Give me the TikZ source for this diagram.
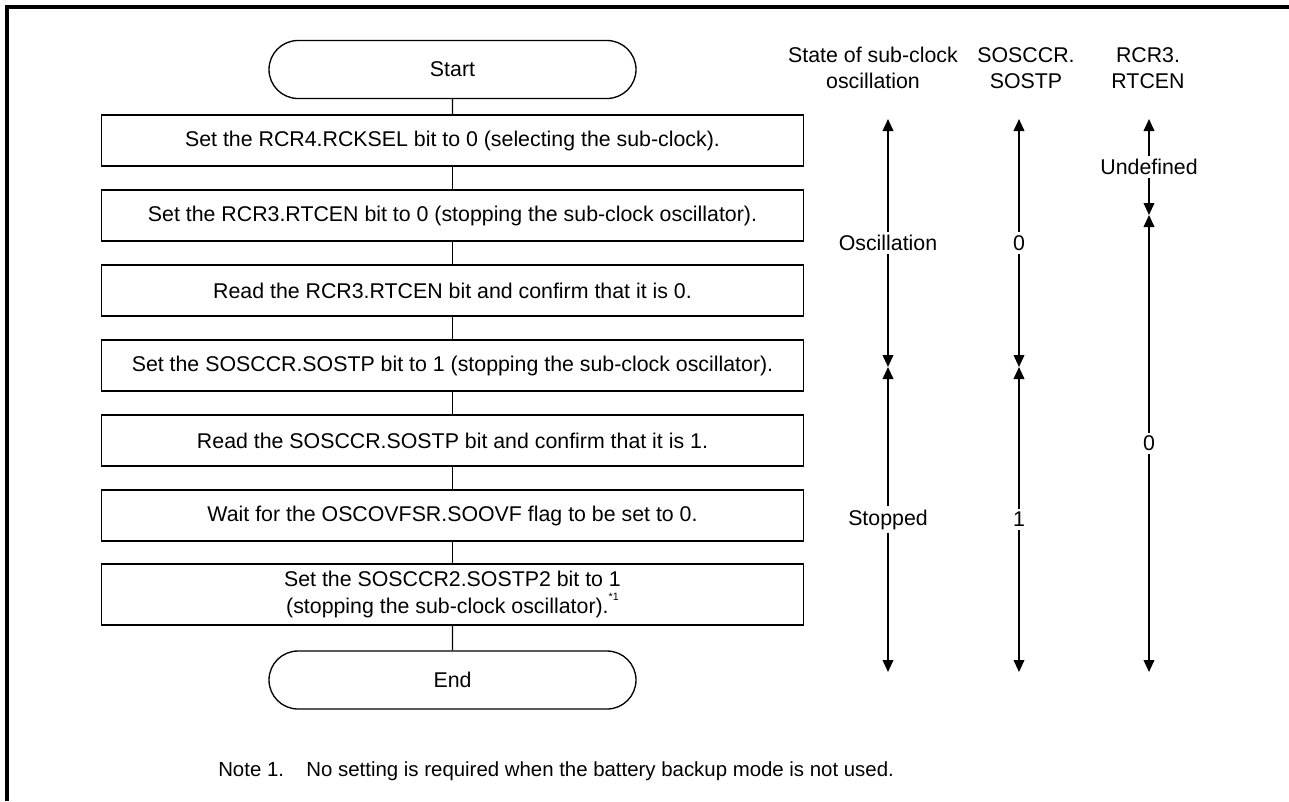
\documentclass[tikz,border=0pt]{standalone}
\usepackage{fontspec}
\setmainfont{Liberation Sans}
\usetikzlibrary{shapes.misc,arrows.meta}
\begin{document}
\begin{tikzpicture}[x=0.75pt,y=-0.75pt,
  font=\fontsize{16}{19.5}\selectfont,
  term/.style={draw,line width=1pt,rounded rectangle,minimum width=275.25pt,minimum height=43.5pt,inner sep=0pt},
  stepbox/.style={draw,line width=1pt,rectangle,minimum width=526.5pt,minimum height=38.25pt,inner sep=0pt,align=center},
  conn/.style={line width=1pt},
  dblarrow/.style={line width=1.2pt,{Triangle[length=9pt,width=8pt]}-{Triangle[length=9pt,width=8pt]}},
  lbl/.style={fill=white,inner sep=2.5pt},
  hdr/.style={align=center,inner sep=0pt}]
\useasboundingbox (0,0) rectangle (1289,801);
\fill[white] (0,0) rectangle (1289,801);
\draw[line width=2.8pt] (7,801) -- (7,7) -- (1289,7);

\node[term] (start) at (452.5,69.5) {Start};
\node[stepbox] (b1) at (452.5,140.5) {Set the RCR4.RCKSEL bit to 0 (selecting the sub-clock).};
\node[stepbox] (b2) at (452.5,215.5) {Set the RCR3.RTCEN bit to 0 (stopping the sub-clock oscillator).};
\node[stepbox] (b3) at (452.5,290.5) {Read the RCR3.RTCEN bit and confirm that it is 0.};
\node[stepbox] (b4) at (452.5,365.5) {Set the SOSCCR.SOSTP bit to 1 (stopping the sub-clock oscillator).};
\node[stepbox] (b5) at (452.5,440.5) {Read the SOSCCR.SOSTP bit and confirm that it is 1.};
\node[stepbox] (b6) at (452.5,515.5) {Wait for the OSCOVFSR.SOOVF flag to be set to 0.};
\node[stepbox,minimum height=45.75pt,font=\fontsize{16}{20.25}\selectfont] (b7) at (452.5,594.5) {Set the SOSCCR2.SOSTP2 bit to 1\\(stopping the sub-clock oscillator).\raisebox{1.2ex}{\fontsize{8}{8}\selectfont *1}};
\node[term] (end) at (452.5,680) {End};

\draw[conn] (start) -- (b1);
\draw[conn] (b1) -- (b2);
\draw[conn] (b2) -- (b3);
\draw[conn] (b3) -- (b4);
\draw[conn] (b4) -- (b5);
\draw[conn] (b5) -- (b6);
\draw[conn] (b6) -- (b7);
\draw[conn] (b7) -- (end);

\node[hdr] (h1) at (873,68) {State of sub-clock\\oscillation};
\node[hdr] (h2) at (1026,68) {SOSCCR.\\SOSTP};
\node[hdr] (h3) at (1148,68) {RCR3.\\RTCEN};

\coordinate (c1t) at (888,119);
\coordinate (c1m) at (888,367);
\coordinate (c1b) at (888,672);
\coordinate (c2t) at (1019,119);
\coordinate (c2m) at (1019,367);
\coordinate (c2b) at (1019,672);
\coordinate (c3t) at (1149,119);
\coordinate (c3m) at (1149,215);
\coordinate (c3b) at (1149,672);

\draw[dblarrow] (c1t) -- node[lbl] (l1a) {Oscillation} (c1m);
\draw[dblarrow] (c1m) -- node[lbl] (l1b) {Stopped} (c1b);
\draw[dblarrow] (c2t) -- node[lbl] (l2a) {0} (c2m);
\draw[dblarrow] (c2m) -- node[lbl] (l2b) {1} (c2b);
\draw[dblarrow] (c3t) -- node[lbl] (l3a) {Undefined} (c3m);
\draw[dblarrow] (c3m) -- node[lbl] (l3b) {0} (c3b);

\node[anchor=west,inner sep=0pt,font=\fontsize{15.3}{18}\selectfont] (note) at (218,771) {Note 1.\hspace{1.1em}No setting is required when the battery backup mode is not used.};
\end{tikzpicture}
\end{document}
